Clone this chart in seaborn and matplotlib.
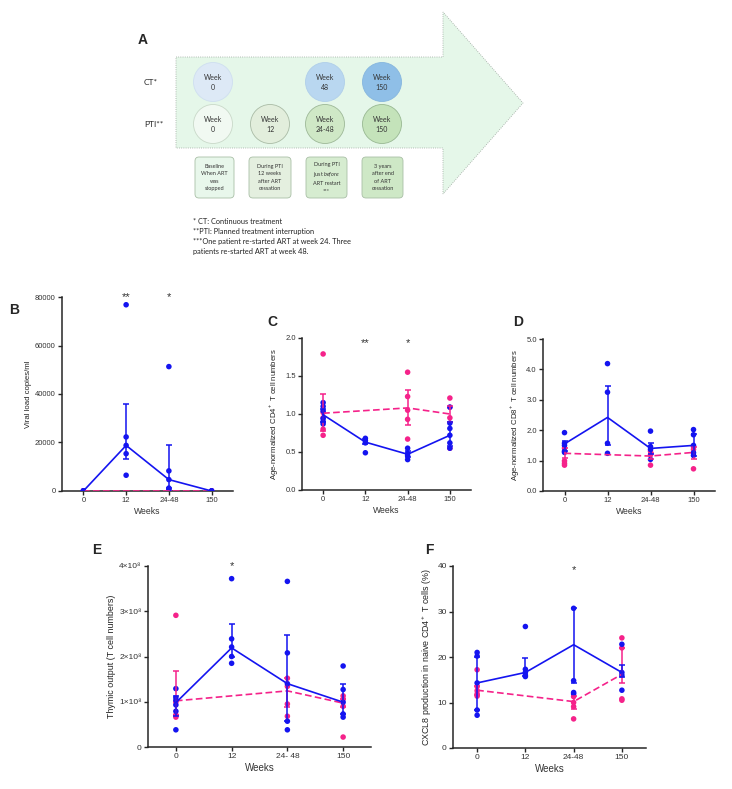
import numpy as np
import pandas as pd
import matplotlib
matplotlib.use("Agg")
import matplotlib.pyplot as plt
from matplotlib.patches import Polygon, Circle, FancyBboxPatch
import seaborn as sns

weeks = ["0", "12", "24-48", "150"]
groups = ["CT", "PTI"]
nan = np.nan

# B: viral load
vl_ct_pts = [[0, 0, 0], [], [0, 0, 0], [0, 0, 0]]
vl_ct_mid = [0, 0, 0, 0]
vl_ct_lo = [nan, nan, nan, nan]
vl_ct_hi = [nan, nan, nan, nan]
vl_pti_pts = [[0, 0, 0, 0], [76800, 22300, 18800, 15400, 6500], [51300, 8300, 4700, 1200, 500], [0, 0, 0]]
vl_pti_mid = [0, 18800, 4700, 0]
vl_pti_lo = [nan, 13100, 1200, nan]
vl_pti_hi = [nan, 35900, 19000, nan]

# C: age-normalized CD4+
cd4_ct_pts = [[1.79, 1.02, 0.95, 0.80, 0.72], [], [1.55, 1.23, 1.05, 0.93, 0.67], [1.21, 1.09, 0.95, 0.55]]
cd4_ct_mid = [1.01, nan, 1.08, 1.00]
cd4_ct_lo = [0.78, nan, 0.86, 0.90]
cd4_ct_hi = [1.26, nan, 1.31, 1.10]
cd4_pti_pts = [[1.15, 1.10, 1.04, 0.94, 0.90, 0.87], [0.68, 0.65, 0.62, 0.49], [0.55, 0.48, 0.45, 0.40],
               [1.09, 0.88, 0.81, 0.72, 0.62, 0.55]]
cd4_pti_mid = [0.99, 0.63, 0.47, 0.72]
cd4_pti_lo = [0.90, 0.60, 0.43, 0.58]
cd4_pti_hi = [1.07, 0.67, 0.51, 0.89]

# D: age-normalized CD8+
cd8_ct_pts = [[1.41, 0.99, 0.91, 0.85], [], [1.31, 1.19, 0.85], [1.46, 1.37, 0.73]]
cd8_ct_mid = [1.24, nan, 1.15, 1.27]
cd8_ct_lo = [1.08, nan, 1.05, 1.05]
cd8_ct_hi = [1.40, nan, 1.25, 1.46]
cd8_pti_pts = [[1.92, 1.57, 1.50, 1.31, 1.27], [4.19, 3.25, 1.57, 1.24], [1.97, 1.46, 1.37, 1.04],
               [2.02, 1.85, 1.50, 1.26, 1.17]]
cd8_pti_mid = [1.55, 2.42, 1.40, 1.50]
cd8_pti_lo = [1.30, 1.52, 1.21, 1.16]
cd8_pti_hi = [1.65, 3.47, 1.59, 1.86]

# E: thymic output
thy_ct_pts = [[2.91e8, 0.99e8, 0.71e8, 0.66e8], [], [1.52e8, 1.34e8, 0.95e8, 0.68e8], [1.13e8, 1.06e8, 0.90e8, 0.22e8]]
thy_ct_mid = [1.02e8, nan, 1.24e8, 0.97e8]
thy_ct_lo = [0.70e8, nan, 0.88e8, 0.88e8]
thy_ct_hi = [1.69e8, nan, 1.52e8, 1.06e8]
thy_pti_pts = [[1.29e8, 1.09e8, 1.03e8, 0.93e8, 0.79e8, 0.38e8], [3.72e8, 2.39e8, 2.21e8, 2.0e8, 1.85e8],
               [3.66e8, 2.08e8, 1.40e8, 0.57e8, 0.38e8], [1.79e8, 1.27e8, 0.99e8, 0.73e8, 0.66e8]]
thy_pti_mid = [0.98e8, 2.19e8, 1.40e8, 0.99e8]
thy_pti_lo = [0.68e8, 2.0e8, 0.57e8, 0.73e8]
thy_pti_hi = [1.12e8, 2.72e8, 2.47e8, 1.40e8]

# F: CXCL8 production
cx_ct_pts = [[17.2, 13.5, 12.6, 11.9, 11.4], [], [11.3, 10.0, 9.1, 6.4], [24.2, 22.0, 10.8, 10.5]]
cx_ct_mid = [12.7, nan, 10.2, 16.2]
cx_ct_lo = [11.7, nan, 8.5, 14.2]
cx_ct_hi = [13.6, nan, 11.5, 22.0]
cx_pti_pts = [[21.0, 20.2, 14.3, 8.35, 7.2], [26.7, 17.3, 16.6, 16.0, 15.7], [30.7, 14.8, 12.2, 11.9],
              [22.8, 16.6, 16.0, 12.7]]
cx_pti_mid = [14.3, 16.6, 22.7, 16.6]
cx_pti_lo = [8.3, 15.8, 14.2, 15.5]
cx_pti_hi = [20.0, 19.7, 30.7, 18.2]

PINK = "#f5228a"
BLUE = "#1414f0"
W, H = 732, 789

sns.set_style("ticks")
plt.rcParams["font.family"] = ["Liberation Sans", "DejaVu Sans"]
plt.rcParams["mathtext.fontset"] = "custom"
plt.rcParams["mathtext.it"] = "Lato:italic"
plt.rcParams["mathtext.rm"] = "Lato"

fig = plt.figure(figsize=(W / 100, H / 100), dpi=100)


def rect(l, t, r, b):
    return [l / W, 1 - b / H, (r - l) / W, (b - t) / H]


# ---- panel A (drawn in pixel coordinates) ----
ax0 = fig.add_axes([0, 0, 1, 1])
ax0.set_xlim(0, W)
ax0.set_ylim(H, 0)
ax0.axis("off")

arrow = Polygon([(176, 57), (443, 57), (443, 12), (523, 103), (443, 194), (443, 148), (176, 148)],
                closed=True, facecolor="#e5f7e9", edgecolor="#9aa59c", lw=0.6, ls=":")
ax0.add_patch(arrow)

tf = ["Lato", "DejaVu Sans"]
ax0.text(143, 40, "A", fontsize=10, fontweight="bold", ha="center", va="center")
ax0.text(144, 82, "CT*", fontsize=6, ha="left", va="center", family=tf)
ax0.text(144, 124, "PTI**", fontsize=6, ha="left", va="center", family=tf)

circ_x = [213, 270, 325, 382]
ct_circles = [("Week\n0", "#dde9f6", "#cfdff0"), None, ("Week\n48", "#b9d7f0", "#b0cfe9"),
              ("Week\n150", "#8fbfe7", "#86b6de")]
pti_circles = [("Week\n0", "#f1f9f2", "#c9d9c9"), ("Week\n12", "#e2eedc", "#a9bba5"),
               ("Week\n24-48", "#cfe8c6", "#9db897"), ("Week\n150", "#c4e3ba", "#98b892")]
for x, c in zip(circ_x, ct_circles):
    if c is None:
        continue
    ax0.add_patch(Circle((x, 82), 19.5, facecolor=c[1], edgecolor=c[2], lw=0.6))
    ax0.text(x, 82, c[0], fontsize=5, ha="center", va="center", linespacing=1.5, color="#333333", family=tf)
for x, c in zip(circ_x, pti_circles):
    ax0.add_patch(Circle((x, 124), 19.5, facecolor=c[1], edgecolor=c[2], lw=0.6))
    ax0.text(x, 124, c[0], fontsize=5, ha="center", va="center", linespacing=1.5, color="#333333", family=tf)

boxes = [(195, 234, "#e8f7eb", "Baseline\nWhen ART\nwas\nstopped"),
         (249, 291, "#e4efdf", "During PTI\n12 weeks\nafter ART\ncessation"),
         (306, 347, "#d6ecd0", "During PTI\njust $\\mathit{before}$\nART restart\n***"),
         (362, 403, "#cee8c6", "3 years\nafter end\nof ART\ncessation")]
for l, r, fc, txt in boxes:
    ax0.add_patch(FancyBboxPatch((l, 157), r - l, 41, boxstyle="round,pad=0,rounding_size=4",
                                 facecolor=fc, edgecolor="#a9bfa6", lw=0.6))
    ax0.text((l + r) / 2, 177.5, txt, fontsize=4, ha="center", va="center", linespacing=1.55,
             color="#333333", family=tf)

notes = ["* CT: Continuous treatment", "**PTI: Planned treatment interruption",
         "***One patient re-started ART at week 24. Three", "patients re-started ART at week 48."]
for i, n in enumerate(notes):
    ax0.text(193, 221 + 10 * i, n, fontsize=5.3, ha="left", va="center", color="#222222", family=tf)

for lab, x, y in [("B", 14, 310), ("C", 272, 322), ("D", 518, 322), ("E", 97, 550), ("F", 429, 550)]:
    ax0.text(x, y, lab, fontsize=10, fontweight="bold", ha="center", va="center")


def panel(r, ct_pts, ct_mid, ct_lo, ct_hi, pti_pts, pti_mid, pti_lo, pti_hi,
          ylim, yticks, yticklabels, ylabel, xticklabels=weeks):
    ax = fig.add_axes(rect(*r))
    rows = []
    for g, pts in [("CT", ct_pts), ("PTI", pti_pts)]:
        for w, vals in zip(weeks, pts):
            for v in vals:
                rows.append({"week": w, "value": v, "group": g})
    df = pd.DataFrame(rows)
    sns.stripplot(data=df, x="week", y="value", hue="group", order=weeks, hue_order=groups,
                  palette={"CT": PINK, "PTI": BLUE}, jitter=False, size=4, linewidth=0,
                  legend=False, ax=ax, zorder=3)
    xpos = np.arange(len(weeks))
    for mid, lo, hi, col, ls in [(ct_mid, ct_lo, ct_hi, PINK, (0, (4, 2))), (pti_mid, pti_lo, pti_hi, BLUE, "-")]:
        mid, lo, hi = np.array(mid, float), np.array(lo, float), np.array(hi, float)
        ok = ~np.isnan(mid)
        ax.plot(xpos[ok], mid[ok], color=col, ls=ls, lw=1.2, zorder=4)
        ok2 = ok & ~np.isnan(lo)
        ax.errorbar(xpos[ok2], mid[ok2], yerr=[mid[ok2] - lo[ok2], hi[ok2] - mid[ok2]], fmt="none",
                    ecolor=col, elinewidth=1.1, capsize=2.5, capthick=1.1, zorder=4)
    ax.set_xlim(-0.5, 3.5)
    ax.set_ylim(*ylim)
    ax.set_yticks(yticks)
    ax.set_yticklabels(yticklabels)
    ax.set_xticks(xpos)
    ax.set_xticklabels(xticklabels)
    ax.set_xlabel("Weeks", fontsize=6.2, color="#333333", labelpad=2)
    ax.set_ylabel(ylabel, fontsize=5.6, color="#222222", labelpad=2)
    ax.tick_params(labelsize=5.5, labelcolor="#333333", length=3, width=1, pad=1.5)
    for s in ["top", "right"]:
        ax.spines[s].set_visible(False)
    for s in ["left", "bottom"]:
        ax.spines[s].set_linewidth(1.1)
    return ax


axB = panel((62, 297, 233, 491), vl_ct_pts, vl_ct_mid, vl_ct_lo, vl_ct_hi,
            vl_pti_pts, vl_pti_mid, vl_pti_lo, vl_pti_hi,
            (0, 80000), [0, 20000, 40000, 60000, 80000], ["0", "20000", "40000", "60000", "80000"],
            "Viral load copies/ml")
axC = panel((302, 338, 471, 490), cd4_ct_pts, cd4_ct_mid, cd4_ct_lo, cd4_ct_hi,
            cd4_pti_pts, cd4_pti_mid, cd4_pti_lo, cd4_pti_hi,
            (0, 2.0), [0, 0.5, 1.0, 1.5, 2.0], ["0.0", "0.5", "1.0", "1.5", "2.0"],
            "Age-normalized CD4$^+$ T cell numbers")
axD = panel((543, 339, 715, 491), cd8_ct_pts, cd8_ct_mid, cd8_ct_lo, cd8_ct_hi,
            cd8_pti_pts, cd8_pti_mid, cd8_pti_lo, cd8_pti_hi,
            (0, 5.0), [0, 1, 2, 3, 4, 5], ["0.0", "1.0", "2.0", "3.0", "4.0", "5.0"],
            "Age-normalized CD8$^+$ T cell numbers")
axE = panel((148, 566, 371, 747), thy_ct_pts, thy_ct_mid, thy_ct_lo, thy_ct_hi,
            thy_pti_pts, thy_pti_mid, thy_pti_lo, thy_pti_hi,
            (0, 4e8), [0, 1e8, 2e8, 3e8, 4e8], ["0", "1×10⁸", "2×10⁸", "3×10⁸", "4×10⁸"],
            "Thymic output (T cell numbers)", ["0", "12", "24- 48", "150"])
axF = panel((453, 566, 646, 748), cx_ct_pts, cx_ct_mid, cx_ct_lo, cx_ct_hi,
            cx_pti_pts, cx_pti_mid, cx_pti_lo, cx_pti_hi,
            (0, 40), [0, 10, 20, 30, 40], ["0", "10", "20", "30", "40"],
            "CXCL8 production in naive CD4$^+$ T cells (%)")
axE.set_ylabel("Thymic output (T cell numbers)", fontsize=6.4, color="#222222", labelpad=2)
axF.set_ylabel("CXCL8 production in naive CD4$^+$ T cells (%)", fontsize=6.4, color="#222222", labelpad=2)
axE.set_xlabel("Weeks", fontsize=7, color="#333333", labelpad=2)
axF.set_xlabel("Weeks", fontsize=7, color="#333333", labelpad=2)
axE.tick_params(labelsize=6)
axF.tick_params(labelsize=6)

# significance stars
for ax, x, y, s in [(axB, 1, 80000, "**"), (axB, 2, 80000, "*"), (axC, 1, 1.93, "**"), (axC, 2, 1.93, "*"),
                    (axE, 1, 4.0e8, "*"), (axF, 2, 39.0, "*")]:
    ax.text(x, y, s, fontsize=8, ha="center", va="center", color="#333333", clip_on=False)

fig.savefig("out.png", dpi=100)
